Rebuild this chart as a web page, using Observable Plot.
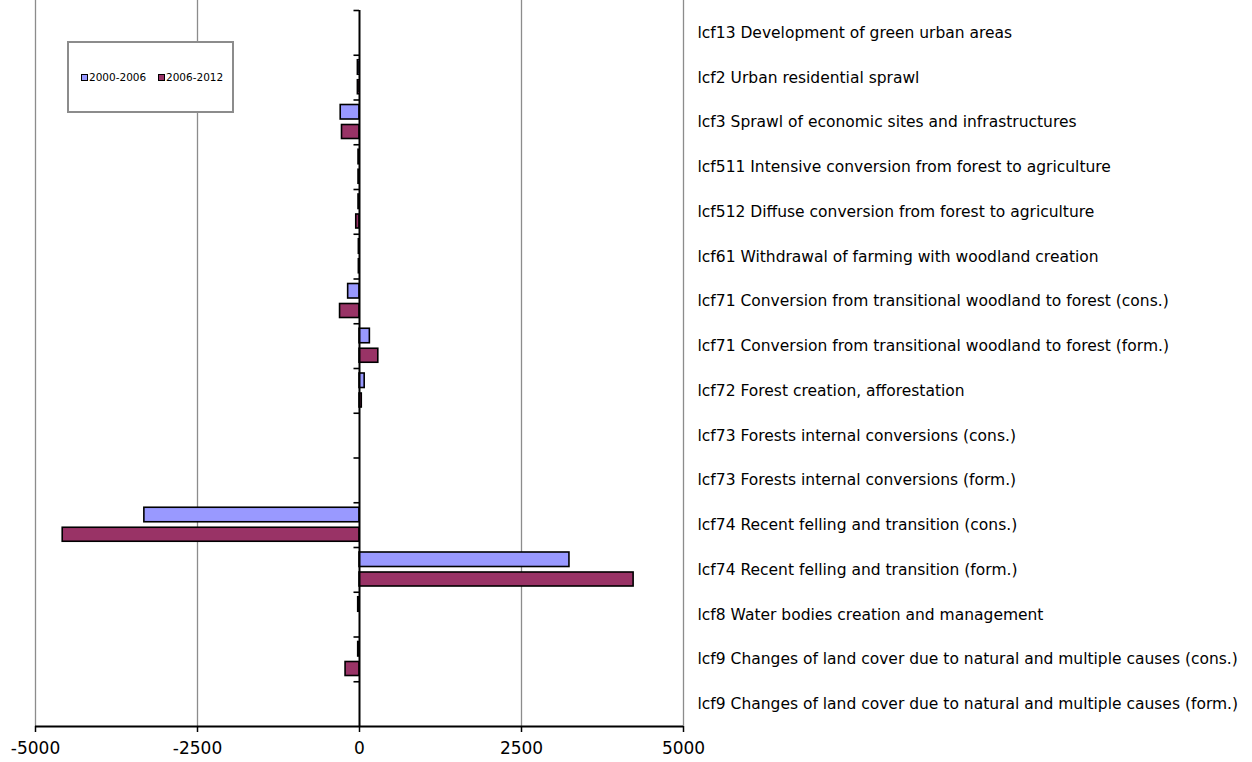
<!DOCTYPE html>
<html>
<head>
<meta charset="utf-8">
<script src="https://cdn.jsdelivr.net/npm/d3@7"></script>
<script src="https://cdn.jsdelivr.net/npm/@observablehq/plot@0.6"></script>
<style>
  html, body { margin: 0; padding: 0; background: #fff; }
  #wrap { position: relative; width: 1252px; height: 762px; font-family: "DejaVu Sans", Verdana, sans-serif; }
  #legend { position: absolute; left: 67px; top: 41px; width: 163px; height: 68px; border: 2px solid #8c8c8c; background: #fff; box-sizing: content-box; }
  .item { position: absolute; top: 27px; font-size: 10.5px; line-height: 14px; display: flex; align-items: center; }
  .sw { width: 5px; height: 5px; border: 1px solid #000; margin-right: 1px; }
</style>
</head>
<body>
<div id="wrap">
  <div id="chart"></div>
  <div id="legend"></div>
</div>
<script>
const categories = [
  "lcf13 Development of green urban areas",
  "lcf2 Urban residential sprawl",
  "lcf3 Sprawl of economic sites and infrastructures",
  "lcf511 Intensive conversion from forest to agriculture",
  "lcf512 Diffuse conversion from forest to agriculture",
  "lcf61 Withdrawal of farming with woodland creation",
  "lcf71 Conversion from transitional woodland to forest (cons.)",
  "lcf71 Conversion from transitional woodland to forest (form.)",
  "lcf72 Forest creation, afforestation",
  "lcf73 Forests internal conversions (cons.)",
  "lcf73 Forests internal conversions (form.)",
  "lcf74 Recent felling and transition (cons.)",
  "lcf74 Recent felling and transition (form.)",
  "lcf8 Water bodies creation and management",
  "lcf9 Changes of land cover due to natural and multiple causes (cons.)",
  "lcf9 Changes of land cover due to natural and multiple causes (form.)"
];
const series = ["2000-2006", "2006-2012"];
const values2000_2006 = [0, -25, -290, -15, -15, -10, -175, 160, 80, 0, 0, -3320, 3240, -20, -20, 0];
const values2006_2012 = [0, -25, -270, -15, -50, -10, -300, 290, 35, 0, 0, -4580, 4230, 0, -215, 0];
const xTicks = [-5000, -2500, 0, 2500, 5000];
const gridTicks = [-5000, -2500, 2500, 5000];
const colors = ["#9999FF", "#993366"];

const rowsA = categories.map((c, i) => ({category: c, value: values2000_2006[i]}));
const rowsB = categories.map((c, i) => ({category: c, value: values2006_2012[i]}));

const W = 1252, H = 762, mL = 35, mR = 569, mT = 10, mB = 36;
const band = (H - mT - mB) / categories.length;

const chart = Plot.plot({
  width: W,
  height: H,
  marginLeft: mL,
  marginRight: mR,
  marginTop: mT,
  marginBottom: mB,
  style: {fontFamily: "'DejaVu Sans', Verdana, sans-serif", background: "#fff", color: "#000"},
  x: {domain: [-5000, 5000], range: [mL, W - mR], axis: null},
  y: {domain: categories, range: [mT, H - mB], padding: 0, round: false, axis: null},
  marks: [
    Plot.ruleX(gridTicks, {stroke: "#8c8c8c", strokeWidth: 1.3, insetTop: -mT}),
    Plot.barX(rowsA, {x: "value", y: "category", fill: colors[0], stroke: "#000", strokeWidth: 1.6, insetTop: 5, insetBottom: band - 19.5}),
    Plot.barX(rowsB, {x: "value", y: "category", fill: colors[1], stroke: "#000", strokeWidth: 1.6, insetTop: 25, insetBottom: band - 39}),
    Plot.ruleX([0], {stroke: "#000", strokeWidth: 2}),
    Plot.ruleY(categories, {y: d => d, dy: -band / 2, x1: -85, x2: 0, stroke: "#000", strokeWidth: 1.6}),
    Plot.ruleY(categories.slice(-1), {y: d => d, dy: band / 2, x1: -5000, x2: 5000, stroke: "#000", strokeWidth: 2}),
    Plot.axisX({ticks: xTicks, tickFormat: d => String(d), tickSize: 6, tickPadding: 9, fontSize: 17, stroke: "#000", strokeWidth: 1.5, label: null}),
    Plot.text(categories, {y: d => d, x: 5000, text: d => d, dx: 14, textAnchor: "start", fontSize: 15.5, fill: "#000"})
  ]
});
document.getElementById("chart").appendChild(chart);

const legend = document.getElementById("legend");
const lx = [12, 89];
series.forEach((s, i) => {
  const it = document.createElement("div");
  it.className = "item";
  it.style.left = lx[i] + "px";
  const sw = document.createElement("span");
  sw.className = "sw";
  sw.style.background = colors[i];
  const t = document.createElement("span");
  t.textContent = s;
  it.appendChild(sw);
  it.appendChild(t);
  legend.appendChild(it);
});
</script>
</body>
</html>
